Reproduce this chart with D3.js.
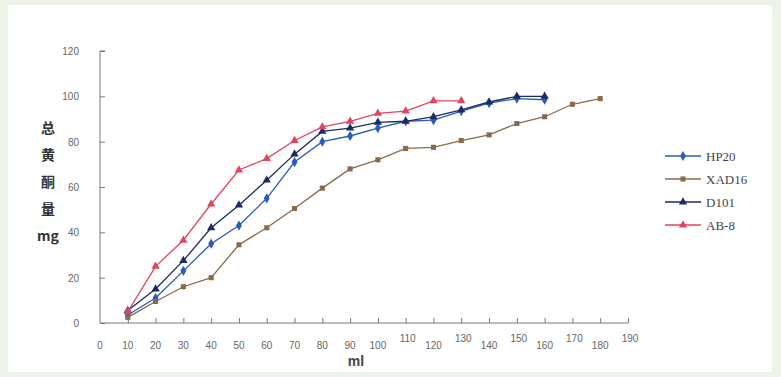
<!DOCTYPE html>
<html>
<head>
<meta charset="utf-8">
<script src="https://cdn.jsdelivr.net/npm/d3@7"></script>
<style>
  html, body { margin: 0; padding: 0; background: #eef3e8; }
  svg { display: block; }
</style>
</head>
<body>
<div id="chart"></div>
<script>
// data
const volumes = [10, 20, 30, 40, 50, 60, 70, 80, 90, 100, 110, 120, 130, 140, 150, 160, 170, 180];
const hp20 = [3.5, 11, 23, 35, 43, 55, 71, 80, 82.5, 86, 89, 89.5, 93.5, 97, 99, 98.5];
const xad16 = [2.5, 9.5, 16, 20, 34.5, 42, 50.5, 59.5, 68, 72, 77, 77.5, 80.5, 83, 88, 91, 96.5, 99];
const d101 = [5.5, 15, 27.5, 42, 52, 63, 74.5, 84.5, 86, 88.5, 89, 91, 94, 97.5, 100, 100];
const ab8 = [5, 25, 36.5, 52.5, 67.5, 72.5, 80.5, 86.5, 89, 92.5, 93.5, 98, 98];
const seriesNames = ['HP20', 'XAD16', 'D101', 'AB-8'];
const xTicks = [0, 10, 20, 30, 40, 50, 60, 70, 80, 90, 100, 110, 120, 130, 140, 150, 160, 170, 180, 190];
const yTicks = [0, 20, 40, 60, 80, 100, 120];
const yTitle = ['总', '黄', '酮', '量', 'mg'];

const width = 781;
const height = 377;

const series = [
  { name: seriesNames[0], values: hp20, color: '#2a5cb8', symbol: d3.symbolDiamond, size: 30 },
  { name: seriesNames[1], values: xad16, color: '#8a6a4c', symbol: d3.symbolSquare, size: 26 },
  { name: seriesNames[2], values: d101, color: '#1c2c62', symbol: d3.symbolTriangle, size: 30 },
  { name: seriesNames[3], values: ab8, color: '#e2465e', symbol: d3.symbolTriangle, size: 30 }
];

const x = d3.scaleLinear([0, 190], [100, 628]);
const y = d3.scaleLinear([0, 120], [323, 51]);

const svg = d3.select('#chart')
  .append('svg')
  .attr('width', width)
  .attr('height', height)
  .attr('viewBox', `0 0 ${width} ${height}`);

// white paper area
svg.append('rect')
  .attr('x', 8)
  .attr('y', 5)
  .attr('width', 764)
  .attr('height', 367)
  .attr('fill', '#ffffff');

// y axis
const yAxis = svg.append('g')
  .attr('transform', `translate(${x(0)},0)`)
  .call(d3.axisRight(y).tickValues(yTicks).tickSize(5).tickFormat(''));
yAxis.select('.domain').attr('stroke', '#777').attr('d', `M5,${y(120)}H0V${y(0)}H0`);
yAxis.selectAll('.tick line').attr('stroke', '#777');

svg.append('g')
  .selectAll('text')
  .data(yTicks)
  .join('text')
  .attr('x', 79)
  .attr('y', d => y(d) + 4)
  .attr('text-anchor', 'end')
  .attr('font-family', 'Liberation Sans, sans-serif')
  .attr('font-size', 10)
  .attr('fill', '#666')
  .text(d => d);

// x axis
const xAxis = svg.append('g')
  .attr('transform', `translate(0,${y(0)})`)
  .call(d3.axisTop(x).tickValues(xTicks.slice(1)).tickSize(5).tickFormat(''));
xAxis.select('.domain').attr('stroke', '#777').attr('d', `M${x(0)},0H${x(190)}`);
xAxis.selectAll('.tick line').attr('stroke', '#777');

// scanned labels: from 110 on every other label sits raised
svg.append('g')
  .selectAll('text')
  .data(xTicks)
  .join('text')
  .attr('x', d => x(d) + (d >= 110 && d % 20 === 10 ? 2 : 0))
  .attr('y', d => (d >= 110 && d % 20 === 10) ? 342 : 349)
  .attr('text-anchor', 'middle')
  .attr('font-family', 'Liberation Sans, sans-serif')
  .attr('font-size', 10)
  .attr('fill', '#666')
  .text(d => d);

svg.append('text')
  .attr('x', 356)
  .attr('y', 366)
  .attr('text-anchor', 'middle')
  .attr('font-family', 'Liberation Sans, sans-serif')
  .attr('font-size', 14)
  .attr('font-weight', 'bold')
  .attr('fill', '#444')
  .text('ml');

// stacked y title
svg.append('g')
  .selectAll('text')
  .data(yTitle)
  .join('text')
  .attr('x', 48)
  .attr('y', (d, i) => 133 + i * 27)
  .attr('text-anchor', 'middle')
  .attr('font-family', 'Noto Sans CJK SC, sans-serif')
  .attr('font-size', 14)
  .attr('font-weight', 'bold')
  .attr('fill', '#333')
  .text(d => d);

// lines and markers
const line = d3.line()
  .x((d, i) => x(volumes[i]))
  .y(d => y(d));

series.forEach(s => {
  svg.append('path')
    .datum(s.values)
    .attr('fill', 'none')
    .attr('stroke', s.color)
    .attr('stroke-width', 1.3)
    .attr('d', line);

  svg.append('g')
    .selectAll('path')
    .data(s.values)
    .join('path')
    .attr('transform', (d, i) => `translate(${x(volumes[i])},${y(d)})`)
    .attr('d', d3.symbol(s.symbol, s.size))
    .attr('fill', s.color);
});

// legend
const legend = svg.append('g');
series.forEach((s, i) => {
  const ly = 156 + i * 23;
  legend.append('line')
    .attr('x1', 665)
    .attr('x2', 701)
    .attr('y1', ly)
    .attr('y2', ly)
    .attr('stroke', s.color)
    .attr('stroke-width', 1.3);
  legend.append('path')
    .attr('transform', `translate(683,${ly})`)
    .attr('d', d3.symbol(s.symbol, s.size))
    .attr('fill', s.color);
  legend.append('text')
    .attr('x', 706)
    .attr('y', ly + 4.5)
    .attr('font-family', 'Liberation Serif, serif')
    .attr('font-size', 13)
    .attr('fill', '#444')
    .text(s.name);
});
</script>
</body>
</html>
